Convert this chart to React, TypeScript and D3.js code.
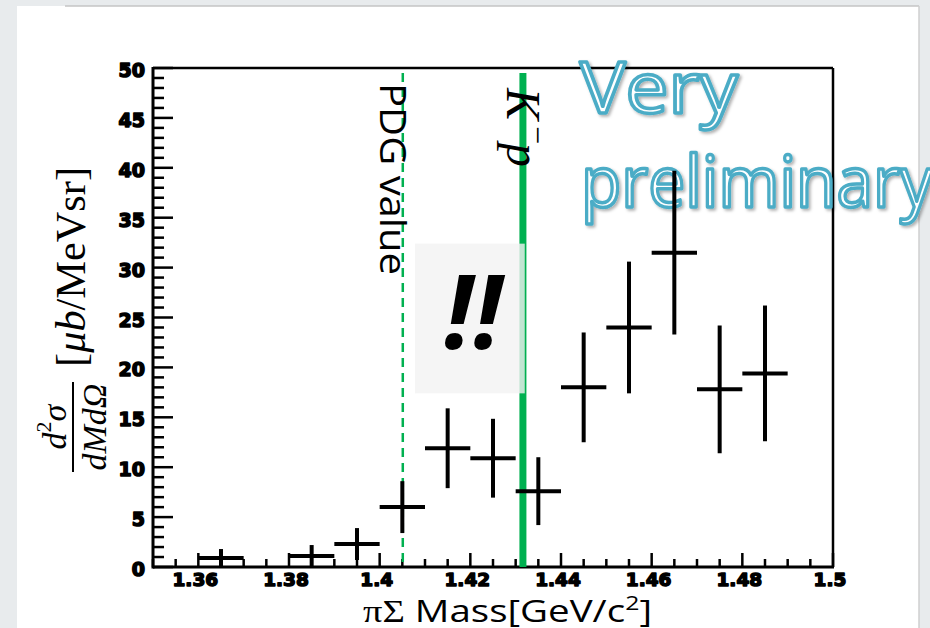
import React from "react";
import * as d3 from "d3";

// ---- data ----
const binCenters = [1.365, 1.385, 1.395, 1.405, 1.415, 1.425, 1.435, 1.445, 1.455, 1.465, 1.475, 1.485];
const crossSection = [0.9, 1.1, 2.3, 6.0, 11.9, 10.9, 7.6, 18.0, 24.0, 31.5, 17.8, 19.4];
const crossSectionErr = [0.9, 1.1, 1.6, 2.6, 4.0, 3.95, 3.4, 5.5, 6.6, 8.2, 6.4, 6.8];
const binHalfWidth = 0.005;

const xTickValues = [1.36, 1.38, 1.4, 1.42, 1.44, 1.46, 1.48, 1.5];
const xTickLabels = ["1.36", "1.38", "1.4", "1.42", "1.44", "1.46", "1.48", "1.5"];
const yTickValues = [0, 5, 10, 15, 20, 25, 30, 35, 40, 45, 50];
const yTickLabels = ["0", "5", "10", "15", "20", "25", "30", "35", "40", "45", "50"];

const pdgMass = 1.4051; // PDG value
const kpThreshold = 1.4316; // K^- p threshold
const markerTop = 49.5;

// annotation box (data coords)
const boxX = [1.4078, 1.432];
const boxY = [17.4, 32.4];

const W = 930;
const H = 628;
const plot = { left: 153, right: 833, top: 68, bottom: 567 };

export default function App() {
  const x = d3.scaleLinear().domain([1.35, 1.5]).range([plot.left, plot.right]);
  const y = d3.scaleLinear().domain([0, 50]).range([plot.bottom, plot.top]).clamp(true);

  const xMinor = d3.range(0, 31).map((i) => 1.35 + i * 0.005);
  const yMinor = d3.range(0, 51);

  const green = "#00b050";
  const tickFont = "'DejaVu Sans', sans-serif";

  return (
    <svg
      width={W}
      height={H}
      viewBox={`0 0 ${W} ${H}`}
      style={{ position: "fixed", left: 0, top: 0, display: "block" }}
    >
      <defs>
        <filter id="shadow" x="-10%" y="-10%" width="130%" height="140%">
          <feDropShadow dx="2" dy="2" stdDeviation="1.5" floodColor="#000" floodOpacity="0.3" />
        </filter>
      </defs>
      {/* slide background */}
      <rect x={0} y={0} width={W} height={H} fill="#e8ebed" />
      <rect x={17} y={6} width={902} height={H - 6} fill="#ffffff" />
      <line x1={65} x2={919} y1={6} y2={6} stroke="#c4c4c4" strokeWidth={1.5} />
      <line x1={919} x2={919} y1={6} y2={H} stroke="#cfcfcf" strokeWidth={1.5} />

      {/* frame */}
      <line x1={plot.left} x2={plot.right} y1={plot.top} y2={plot.top} stroke="#000" strokeWidth={2.5} />
      <line x1={plot.right} x2={plot.right} y1={plot.top} y2={plot.bottom} stroke="#000" strokeWidth={2.5} />
      <line x1={plot.left} x2={plot.right + 1} y1={plot.bottom} y2={plot.bottom} stroke="#000" strokeWidth={3} />
      <line x1={plot.left} x2={plot.left} y1={plot.top - 1} y2={plot.bottom + 1.5} stroke="#000" strokeWidth={3} />

      {/* x ticks */}
      {xMinor.map((v, i) => {
        const major = i % 4 === 2;
        const len = major ? 14 : 8;
        return (
          <line key={"xt" + i} x1={x(v)} x2={x(v)} y1={plot.bottom} y2={plot.bottom - len} stroke="#000" strokeWidth={2.5} />
        );
      })}
      {xTickValues.map((v, i) => (
        <text
          key={"xl" + i}
          x={x(v) - 3}
          y={586}
          textAnchor="middle"
          fontFamily={tickFont}
          fontWeight="bold"
          fontSize={18.5}
          stroke="#000"
          strokeWidth={1.5}
          strokeLinejoin="round"
          fill="#000"
        >
          {xTickLabels[i]}
        </text>
      ))}

      {/* y ticks */}
      {yMinor.map((v) => {
        const major = v % 5 === 0;
        const len = major ? 20 : 11;
        return (
          <line key={"yt" + v} x1={plot.left} x2={plot.left + len} y1={y(v)} y2={y(v)} stroke="#000" strokeWidth={2.5} />
        );
      })}
      {yTickValues.map((v, i) => (
        <text
          key={"yl" + i}
          x={145}
          y={y(v) + 9}
          textAnchor="end"
          fontFamily={tickFont}
          fontWeight="bold"
          fontSize={19}
          stroke="#000"
          strokeWidth={1.5}
          strokeLinejoin="round"
          fill="#000"
        >
          {yTickLabels[i]}
        </text>
      ))}

      {/* K- p threshold line */}
      <line x1={x(kpThreshold)} x2={x(kpThreshold)} y1={y(markerTop)} y2={plot.bottom} stroke={green} strokeWidth={7} />
      {/* PDG dashed line */}
      <line
        x1={x(pdgMass)}
        x2={x(pdgMass)}
        y1={y(markerTop)}
        y2={plot.bottom}
        stroke={green}
        strokeWidth={2.5}
        strokeDasharray="9,6"
      />

      {/* PDG value label */}
      <g transform={`translate(380, 83) rotate(90)`}>
        <text x={0} y={0} fontFamily="'Open Sans', sans-serif" fontSize={37} fill="#000" textLength={192} lengthAdjust="spacingAndGlyphs">
          PDG value
        </text>
      </g>

      {/* annotation box */}
      <rect
        x={x(boxX[0])}
        y={y(boxY[1])}
        width={x(boxX[1]) - x(boxX[0])}
        height={y(boxY[0]) - y(boxY[1])}
        fill="#f2f2f2"
        fillOpacity={0.8}
      />
      <text
        x={473}
        y={349}
        textAnchor="middle"
        fontFamily="'Open Sans', sans-serif"
        fontWeight="bold"
        fontStyle="italic"
        fontSize={102}
        fill="#000"
      >
        !!
      </text>

      {/* K- p label */}
      <g transform={`translate(507, 88) rotate(90)`} fontFamily="'Liberation Serif', 'DejaVu Serif', serif" fontStyle="italic" fill="#000">
        <text x={0} y={0} fontSize={48}>K</text>
        <text x={38} y={-20} fontSize={32} fontStyle="normal">−</text>
        <text x={55} y={0} fontSize={48}>p</text>
      </g>

      {/* Very preliminary */}
      <g filter="url(#shadow)" fontFamily="'Open Sans', sans-serif" fontSize={71} fill="#ffffff" stroke="#4bacc6" strokeWidth={3.5} strokeLinejoin="round">
        <text x={580} y={113} textLength={158} lengthAdjust="spacingAndGlyphs">Very</text>
        <text x={581} y={207} textLength={352} lengthAdjust="spacingAndGlyphs">preliminary</text>
      </g>

      {/* data points with error bars */}
      {binCenters.map((c, i) => {
        const v = crossSection[i];
        const e = crossSectionErr[i];
        return (
          <g key={"pt" + i} stroke="#000" strokeWidth={4}>
            <line x1={x(c - binHalfWidth)} x2={x(c + binHalfWidth)} y1={y(v)} y2={y(v)} />
            <line x1={x(c)} x2={x(c)} y1={y(v + e)} y2={y(Math.max(0, v - e))} />
          </g>
        );
      })}

      {/* y axis title */}
      <g transform="rotate(-90)" fill="#000" fontFamily="'Liberation Serif', 'DejaVu Serif', serif">
        <text x={-427} y={66} textAnchor="middle" fontSize={34} fontStyle="italic">
          d<tspan fontSize={22} dy={-15} fontStyle="normal">2</tspan>
          <tspan dy={15}>σ</tspan>
        </text>
        <line x1={-472} x2={-382} y1={73} y2={73} stroke="#000" strokeWidth={2} />
        <text x={-427} y={106} textAnchor="middle" fontSize={34} fontStyle="italic">
          dMdΩ
        </text>
        <text x={-367} y={85} fontSize={42} textLength={200} lengthAdjust="spacingAndGlyphs">
          [<tspan fontStyle="italic">μb</tspan>/MeVsr]
        </text>
      </g>

      {/* x axis title */}
      <text x={363} y={622} fontFamily="'Open Sans', sans-serif" fontSize={31} fill="#000" textLength={289} lengthAdjust="spacingAndGlyphs">
        <tspan fontFamily="'Liberation Serif', serif">πΣ</tspan> Mass[GeV/c
        <tspan fontSize={20} dy={-12}>2</tspan>
        <tspan dy={12}>]</tspan>
      </text>
    </svg>
  );
}
